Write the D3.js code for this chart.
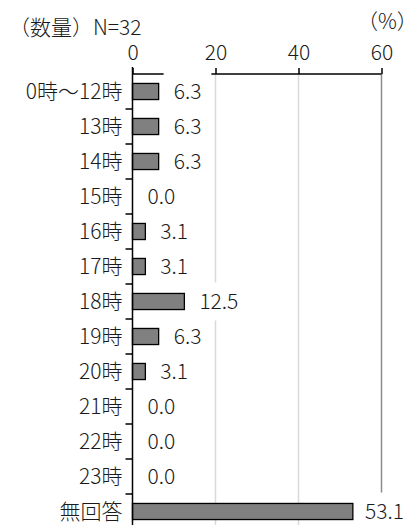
<!DOCTYPE html>
<html><head><meta charset="utf-8">
<script src="https://cdn.jsdelivr.net/npm/d3@7"></script>
<style>
html,body{margin:0;padding:0;background:#fff;}
svg{display:block;}
text{font-family:"Noto Sans CJK JP","Noto Sans",sans-serif;font-weight:300;}
</style></head>
<body>
<svg id="chart" width="417" height="525"></svg>
<script>
const categories = ["0時～12時","13時","14時","15時","16時","17時","18時","19時","20時","21時","22時","23時","無回答"];
const values = [6.3,6.3,6.3,0.0,3.1,3.1,12.5,6.3,3.1,0.0,0.0,0.0,53.1];
const xTicks = [0,20,40,60];
const title = "（数量）N=32";
const unit = "（%）";

const svg = d3.select("#chart");
const W = 417, H = 525;
const x = d3.scaleLinear().domain([0,60]).range([132.5,381.5]);
const y = d3.scaleBand().domain(categories).range([74, 74+13*35]).padding(0);
const barH = y.bandwidth()*0.46;
const fs = 21;
const ff = '"Noto Sans CJK JP",sans-serif';
const tc = "#1a1a1a";

// gridlines
svg.append("g").selectAll("line").data(xTicks.filter(d=>d>0)).join("line")
  .attr("x1",d=>x(d)).attr("x2",d=>x(d)).attr("y1",74).attr("y2",H)
  .attr("stroke",d=>d===60?"#8c8c8c":"#d9d9d9").attr("stroke-width",1.5);

// top axis
const ax = d3.axisTop(x).tickValues(xTicks).tickSize(6).tickPadding(8).tickFormat(d3.format("d"));
const gx = svg.append("g").attr("transform","translate(0,74)").call(ax);
gx.select(".domain").attr("stroke","#000").attr("stroke-width",1.5).attr("d",`M${x(0)},0H${x(60)}`);
gx.selectAll(".tick line").attr("stroke","#000").attr("stroke-width",1.5);
gx.selectAll(".tick text").attr("font-size",fs).attr("fill",tc).attr("font-family",ff).attr("font-weight",300);

// value labels with white backgrounds
const lab = svg.append("g");
const fmt = d3.format(".1f");
values.forEach((v,i)=>{
  const cy = y(categories[i]) + y.bandwidth()/2;
  const t = lab.append("text").attr("font-size",fs).attr("fill",tc)
    .attr("y",cy).attr("dy","0.36em").text(fmt(v));
  const w = t.node().getComputedTextLength();
  let tx = x(v)+15;
  if (tx + w > 404) tx = 404 - w;
  t.attr("x",tx);
  lab.append("rect").attr("x",tx-10).attr("y",cy-19).attr("width",w+20).attr("height",38).attr("fill","#fff");
});
lab.selectAll("rect").lower();

// bars
svg.append("g").selectAll("rect").data(values).join("rect")
  .attr("x",x(0)).attr("y",(d,i)=>y(categories[i])+(y.bandwidth()-barH)/2)
  .attr("width",d=>x(d)-x(0)).attr("height",barH)
  .attr("fill","#808080").attr("stroke","#000").attr("stroke-width",1.3)
  .attr("display",d=>d>0?null:"none");

// left axis
const ay = d3.axisLeft(y).tickSize(0).tickPadding(10);
const gy = svg.append("g").attr("transform",`translate(${x(0)},0)`).call(ay);
gy.select(".domain").attr("stroke","#000").attr("stroke-width",1.5).attr("d",`M0,67V${H}`);
gy.selectAll(".tick text").attr("font-size",fs).attr("fill",tc).attr("font-family",ff).attr("font-weight",300).attr("dy","0.36em");
// boundary ticks
svg.append("g").selectAll("line").data(categories.slice(1)).join("line")
  .attr("x1",x(0)-7).attr("x2",x(0)).attr("y1",d=>y(d)).attr("y2",d=>y(d))
  .attr("stroke","#000").attr("stroke-width",1.5);

// title and unit
svg.append("text").attr("x",9).attr("y",35).attr("font-size",21).attr("fill",tc).text(title);
svg.append("text").attr("x",357).attr("y",29).attr("font-size",21).attr("fill",tc).text(unit);
</script>
</body></html>
